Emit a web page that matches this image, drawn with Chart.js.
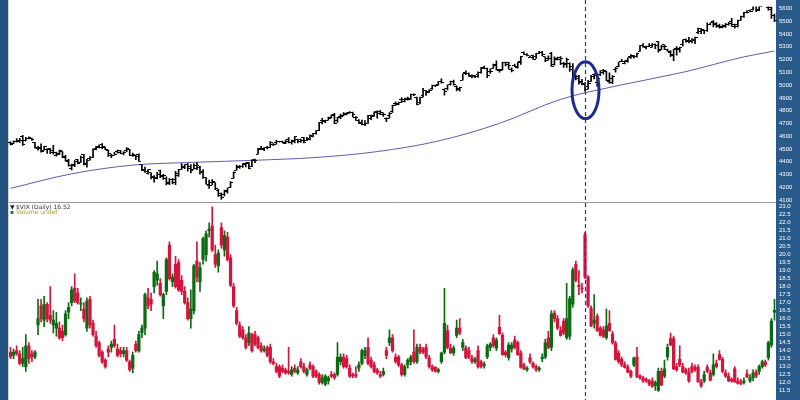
<!DOCTYPE html>
<html>
<head>
<meta charset="utf-8">
<script src="https://cdn.jsdelivr.net/npm/chart.js@4.4.1/dist/chart.umd.min.js"></script>
<style>
  html, body { margin: 0; padding: 0; background: #fff; }
  #chart { display: block; }
</style>
</head>
<body>
<canvas id="chart" width="800" height="400"></canvas>
<script>
// S&P 500 daily bars, 21 Jul 2023 .. 19 Jul 2024 (one entry per session)
const spxOpen = [
  4550,4543,4555,4558,4599,4565,4585,
  4578,4551,4500,4514,4491,4498,4501,4487,4450,4458,4478,4434,4409,4344,4380,4415,4397,4455,4389,4426,4433,4500,4518,
  4531,4511,4491,4452,4452,4480,4474,4462,4487,4497,4446,4446,4455,4375,4342,4311,4312,4283,4270,4328,
  4284,4270,4233,4259,4234,4289,4339,4366,4380,4360,4342,4345,4357,4321,4274,4210,4235,4233,4176,4152,4139,4172,
  4201,4268,4334,4364,4366,4384,4391,4365,4406,4458,4505,4497,4509,4512,4538,4553,4555,4555,4546,4571,4554,
  4559,4570,4557,4587,4568,4576,4601,4619,4646,4721,4714,4725,4743,4764,4724,4754,4759,4773,4786,4782,
  4745,4726,4697,4690,4703,4742,4759,4792,4792,4772,4739,4760,4796,4853,4856,4888,4886,4888,4892,4925,4899,
  4862,4916,4957,4951,4973,4996,5005,5027,4967,4976,5003,5032,4989,4964,5038,5100,5093,5074,5068,5085,
  5098,5131,5132,5109,5132,5164,5112,5124,5174,5175,5124,5154,5139,5182,5254,5242,5220,5228,5227,5248,
  5258,5221,5195,5244,5158,5212,5218,5167,5172,5172,5149,5064,5068,5031,5005,4987,5028,5084,5019,5084,5114,5103,
  5030,5050,5123,5142,5187,5168,5190,5226,5233,5222,5264,5310,5303,5305,5298,5319,5340,5282,5315,5278,5259,5243,
  5289,5278,5315,5357,5343,5341,5353,5409,5441,5424,5431,5477,5499,5481,5459,5461,5460,5473,5499,
  5471,5462,5507,5537,5572,5584,5592,5635,5590,5638,5645,5610,5608,5543
];
const spxHigh = [
  4555,4563,4580,4583,4607,4590,4595,
  4585,4551,4520,4540,4520,4503,4503,4528,4476,4490,4479,4450,4418,4382,4408,4419,4444,4458,4418,4440,4500,4521,4532,
  4542,4514,4491,4459,4474,4490,4488,4479,4511,4497,4467,4451,4461,4375,4357,4339,4313,4292,4317,4334,
  4300,4281,4268,4268,4324,4341,4385,4378,4385,4377,4383,4393,4364,4339,4276,4255,4259,4236,4183,4156,4177,4194,
  4245,4320,4373,4372,4386,4391,4393,4415,4421,4505,4521,4511,4521,4557,4542,4569,4560,4562,4569,4588,4569,
  4599,4575,4578,4590,4590,4610,4623,4644,4709,4739,4726,4749,4768,4778,4748,4772,4785,4785,4793,4788,
  4754,4730,4726,4722,4764,4765,4791,4799,4802,4783,4744,4785,4843,4868,4866,4903,4899,4906,4929,4932,4907,
  4906,4975,4957,4964,5000,5001,5030,5049,4971,5003,5032,5039,4994,4984,5088,5111,5097,5080,5077,5104,
  5140,5149,5134,5127,5165,5190,5124,5180,5180,5180,5136,5165,5180,5225,5261,5247,5229,5236,5249,5264,
  5264,5221,5229,5256,5222,5219,5224,5178,5211,5175,5168,5080,5077,5046,5019,5038,5076,5089,5057,5114,5124,5110,
  5096,5074,5140,5181,5201,5191,5214,5239,5234,5250,5311,5325,5305,5325,5325,5323,5342,5311,5315,5282,5270,5280,
  5302,5298,5354,5362,5375,5365,5376,5447,5442,5432,5488,5487,5505,5490,5478,5472,5483,5491,5524,
  5479,5510,5540,5570,5584,5590,5635,5642,5655,5670,5669,5623,5614,5557
];
const spxLow = [
  4532,4541,4553,4551,4528,4563,4578,
  4567,4505,4490,4475,4491,4464,4462,4458,4444,4454,4432,4403,4365,4335,4360,4382,4395,4375,4356,4412,4431,4493,4508,
  4501,4492,4442,4431,4451,4467,4461,4453,4479,4448,4442,4416,4402,4329,4316,4302,4265,4239,4264,4275,
  4260,4217,4220,4226,4219,4284,4339,4345,4325,4311,4342,4337,4303,4268,4223,4190,4219,4181,4128,4104,4132,4153,
  4197,4268,4334,4347,4355,4359,4343,4360,4393,4458,4495,4487,4500,4511,4525,4538,4552,4546,4541,4547,4537,
  4547,4546,4551,4546,4564,4570,4594,4616,4643,4695,4705,4725,4743,4697,4708,4736,4759,4767,4780,4751,
  4723,4700,4687,4682,4700,4730,4756,4740,4769,4755,4714,4740,4786,4840,4844,4865,4868,4881,4887,4917,4845,
  4853,4907,4919,4940,4966,4987,4999,5016,4921,4963,4999,4999,4954,4953,5038,5081,5068,5057,5058,5061,
  5094,5127,5058,5092,5131,5117,5102,5116,5151,5124,5104,5145,5132,5162,5241,5229,5216,5202,5209,5246,
  5229,5184,5195,5146,5157,5197,5160,5138,5138,5107,5053,5040,5008,5001,4953,4969,5028,5048,4990,5073,5086,5035,
  5013,5011,5102,5142,5184,5166,5180,5209,5211,5219,5263,5297,5284,5302,5298,5286,5257,5278,5280,5263,5222,5191,
  5234,5257,5304,5336,5331,5331,5324,5403,5403,5403,5420,5471,5456,5452,5446,5447,5452,5470,5460,
  5446,5456,5507,5531,5566,5574,5587,5576,5583,5619,5639,5588,5522,5497
];
const spxClose = [
  4536,4555,4567,4566,4537,4582,4589,
  4577,4513,4501,4478,4518,4499,4468,4469,4464,4490,4437,4404,4370,4370,4400,4388,4436,4376,4406,4433,4497,4514,4508,
  4516,4497,4465,4451,4457,4487,4462,4468,4505,4450,4454,4444,4402,4330,4320,4337,4274,4275,4300,4288,
  4288,4229,4263,4258,4308,4336,4358,4376,4349,4327,4373,4373,4314,4278,4224,4217,4247,4186,4137,4117,4166,4194,
  4238,4318,4358,4366,4378,4383,4347,4415,4411,4496,4503,4509,4514,4547,4538,4556,4559,4550,4555,4551,4568,
  4595,4570,4567,4549,4585,4604,4622,4644,4707,4720,4719,4741,4768,4698,4747,4755,4775,4781,4783,4770,
  4743,4705,4689,4697,4764,4757,4783,4780,4784,4766,4739,4780,4840,4850,4865,4869,4894,4891,4928,4925,4846,
  4906,4959,4943,4954,4996,4998,5027,5022,4953,5001,5030,5006,4976,4982,5088,5089,5070,5078,5070,5096,
  5137,5131,5079,5105,5157,5124,5117,5175,5165,5150,5117,5149,5179,5225,5241,5234,5218,5204,5248,5254,
  5243,5205,5211,5147,5204,5202,5209,5161,5199,5123,5061,5051,5022,5011,4967,5011,5070,5072,5048,5100,5116,5036,
  5018,5064,5128,5181,5187,5188,5214,5223,5221,5247,5308,5297,5303,5308,5321,5307,5268,5305,5306,5267,5235,5278,
  5283,5291,5354,5352,5347,5361,5375,5421,5433,5431,5473,5487,5473,5464,5448,5469,5478,5483,5460,
  5475,5509,5537,5567,5572,5577,5633,5585,5615,5631,5667,5589,5545,5505
];

// moving average at a few sessions
const maIdx = [0, 20, 40, 60, 80, 100, 120, 140, 160, 180, 200, 220, 240, 250];
const maVal = [4191, 4305, 4373, 4395, 4411, 4433, 4479, 4562, 4700, 4888, 5002, 5100, 5221, 5267];

// $VIX daily candles, same sessions
const vixOpen = [
  13.9,13.7,14.0,13.8,13.2,13.0,14.3,13.8,13.6,15.6,
  16.8,15.9,16.9,16.2,15.6,15.4,15.4,15.2,15.0,16.4,
  17.0,17.9,17.6,16.9,16.6,15.4,17.2,15.7,14.9,14.5,
  13.9,13.4,14.1,14.2,14.7,14.1,14.0,13.8,14.0,13.3,
  12.9,14.4,14.0,15.1,15.4,17.3,17.2,18.0,18.4,18.2,
  16.8,17.7,20.6,18.3,19.4,19.5,18.4,17.7,17.0,16.0,
  16.5,19.6,18.3,19.7,20.0,21.5,21.8,20.0,19.3,21.7,
  20.3,21.1,19.8,18.0,16.5,15.6,15.3,14.8,14.5,15.0,
  15.0,14.8,14.3,14.0,14.2,14.2,13.3,13.0,13.0,12.9,
  12.8,12.7,12.5,12.9,12.6,13.3,13.0,12.5,13.1,13.0,
  12.7,12.5,12.0,11.9,12.1,12.5,12.5,12.5,13.3,13.6,
  13.5,12.9,12.5,12.5,12.9,13.2,13.7,14.2,13.4,13.1,
  12.8,12.5,12.5,14.0,14.5,14.8,13.6,13.6,13.1,12.5,
  13.1,13.3,13.9,13.3,14.2,14.1,14.2,13.55,13.0,12.95,
  12.7,13.3,13.9,15.25,14.15,13.85,14.95,15.4,14.2,14.15,
  14.0,13.55,13.3,14.0,13.3,13.05,13.6,14.2,14.8,14.15,
  15.45,14.95,13.9,13.55,14.1,14.65,14.5,13.85,13.1,12.8,
  13.55,13.2,13.0,12.8,13.5,13.6,14.8,14.2,16.35,16.0,
  15.25,15.85,14.8,14.9,16.9,19.4,18.1,17.9,21.25,18.6,
  16.65,15.7,16.15,15.4,15.3,14.8,15.7,15.05,14.45,13.85,
  13.45,13.1,12.95,12.7,13.1,13.6,12.4,12.3,12.2,12.1,
  12.1,11.8,11.5,12.7,12.4,13.6,14.75,14.75,13.0,13.45,
  13.0,12.8,12.65,13.0,12.95,12.95,12.05,12.1,12.95,12.6,
  12.5,13.2,13.75,13.45,12.6,12.4,12.2,12.85,12.1,12.05,
  12.0,12.55,12.1,12.3,12.65,12.7,13.0,13.3,13.55,14.35,16.4
];
const vixHigh = [
  14.2,14.1,14.3,14.0,14.2,15.0,14.5,14.0,14.0,17.2,
  17.2,17.4,17.0,18.0,16.5,16.4,15.8,15.6,16.5,17.0,
  18.0,18.8,17.9,17.3,17.0,17.3,17.4,15.9,15.2,14.6,
  14.0,13.5,14.3,14.6,15.6,14.4,14.2,14.2,14.2,13.4,
  13.9,14.6,15.2,15.6,17.6,17.9,17.6,19.0,19.6,18.5,
  17.6,19.8,20.8,18.8,19.9,19.7,18.7,18.0,17.3,17.8,
  19.4,20.8,19.5,21.1,21.5,22.0,23.0,20.6,20.3,22.0,
  21.5,21.4,20.0,18.2,16.7,15.8,15.5,15.0,15.5,15.1,
  15.2,14.9,14.5,14.3,14.3,14.4,13.5,13.2,13.1,13.1,
  12.9,14.2,13.0,13.1,13.0,13.5,13.2,12.9,13.3,13.1,
  12.8,12.6,12.5,12.5,12.4,12.7,12.6,14.5,13.8,13.8,
  13.7,13.1,12.6,13.0,13.3,14.1,14.2,14.8,13.6,13.3,
  12.9,12.7,12.9,14.2,15.3,15.0,13.8,13.7,13.2,13.1,
  13.5,13.7,15.3,14.4,14.4,14.2,14.4,13.7,13.1,13.0,
  12.9,13.9,17.9,15.6,14.4,14.3,15.9,16.0,14.7,14.3,
  14.2,13.7,13.6,14.3,13.4,13.3,14.4,14.5,15.0,14.8,
  16.2,15.1,14.0,14.5,14.5,14.9,14.6,14.0,13.2,13.0,
  13.8,13.3,13.1,13.0,13.8,14.7,15.2,16.5,16.5,16.2,
  15.5,16.0,18.2,17.4,19.2,19.6,19.0,18.2,21.4,18.7,
  16.8,17.5,16.3,15.5,15.5,16.6,16.5,15.2,14.6,14.0,
  13.6,13.3,13.1,12.8,13.6,14.2,12.5,12.4,12.3,12.2,
  12.3,12.1,12.9,12.9,13.4,14.4,15.1,14.9,13.2,14.3,
  13.2,12.9,12.9,13.2,13.1,13.1,12.2,12.7,13.1,12.8,
  13.8,13.4,14.0,13.6,12.8,12.6,12.3,13.0,12.3,12.2,
  12.3,12.8,12.5,12.8,12.8,13.1,13.4,13.4,14.6,16.0,17.2
];
const vixLow = [
  13.5,13.5,13.7,13.1,13.0,12.7,13.2,13.3,13.5,15.0,
  15.8,15.5,15.8,15.7,15.1,14.9,14.7,14.6,14.9,16.0,
  16.8,17.0,16.9,16.5,15.8,15.2,15.4,14.9,14.2,13.6,
  13.2,12.9,13.6,13.9,14.2,13.6,13.6,13.6,13.3,12.7,
  12.6,13.9,13.9,14.8,15.0,16.6,16.5,17.6,18.1,17.4,
  16.0,17.5,18.4,18.0,17.9,17.7,17.5,16.9,15.9,15.4,
  16.3,18.3,17.7,19.4,19.6,21.1,20.2,19.2,18.9,20.4,
  19.9,19.6,18.0,16.7,15.6,14.8,14.7,14.1,14.3,13.9,
  14.3,14.1,13.9,13.9,13.6,13.2,13.1,12.6,12.3,12.6,
  12.5,12.5,12.4,12.6,12.5,12.9,12.6,12.4,12.8,12.3,
  12.3,11.9,11.9,11.8,11.9,12.3,12.2,12.4,13.1,12.9,
  12.9,12.3,12.3,12.3,12.7,13.1,13.5,13.1,12.9,12.6,
  12.5,12.3,12.4,13.5,14.3,13.9,13.2,13.0,12.4,12.4,
  12.9,13.1,13.2,13.2,13.8,13.8,13.5,12.9,12.7,12.65,
  12.6,13.2,13.8,14.1,13.8,13.7,14.8,15.0,14.0,13.5,
  13.5,13.2,13.2,12.9,12.9,12.9,13.5,14.0,14.2,14.0,
  15.0,13.7,13.6,13.4,13.9,14.1,13.7,12.9,12.8,12.7,
  13.2,12.9,12.7,12.7,13.3,13.5,14.1,14.0,15.8,15.3,
  14.9,15.0,14.7,14.7,16.7,18.3,17.5,17.6,18.5,16.7,
  15.5,15.4,15.2,14.9,14.8,14.7,15.2,14.4,13.4,13.2,
  13.0,12.9,12.6,12.3,13.0,12.3,12.2,12.0,12.0,11.8,
  11.7,11.5,11.45,11.8,12.3,13.4,14.3,12.8,12.7,13.0,
  12.6,12.5,12.0,12.6,12.7,12.0,11.7,12.0,12.6,12.1,
  12.4,12.9,13.4,12.6,12.3,12.05,12.0,12.0,11.9,11.85,
  11.9,12.3,12.0,12.1,12.3,12.5,12.9,13.0,13.4,14.2,15.9
];
const vixClose = [
  13.6,13.9,13.8,13.2,13.5,14.3,13.5,13.6,13.9,16.0,
  16.0,16.9,16.0,15.9,15.9,15.7,14.8,14.8,16.3,16.7,
  17.8,17.1,17.0,16.9,16.0,17.1,15.6,15.0,14.3,13.7,
  13.3,13.0,13.9,14.4,14.3,13.7,13.8,14.0,13.4,12.8,
  13.7,14.0,15.0,15.4,17.5,16.8,16.9,18.9,18.8,17.5,
  17.5,19.7,18.5,18.6,18.0,17.8,17.7,17.0,16.0,16.6,
  19.3,18.6,19.2,21.0,21.3,21.6,20.3,19.4,20.1,20.6,
  21.2,19.7,18.1,16.8,15.7,14.9,14.8,14.2,15.1,14.0,
  14.4,14.2,14.0,14.1,13.7,13.3,13.2,12.7,12.4,12.7,
  12.6,12.6,12.8,12.7,12.8,13.0,12.7,12.8,12.9,12.4,
  12.4,12.0,12.3,12.4,12.3,12.4,12.3,13.6,13.6,13.0,
  13.0,12.4,12.4,12.4,13.1,14.0,14.0,13.2,13.0,12.7,
  12.6,12.4,12.7,13.7,14.8,14.0,13.3,13.1,12.5,13.0,
  13.4,13.6,13.3,14.2,13.9,13.9,13.6,13.0,12.8,12.7,
  12.8,13.85,15.7,14.2,13.85,14.15,15.4,15.1,14.5,13.55,
  13.6,13.3,13.45,13.0,13.0,13.15,14.3,14.4,14.3,14.65,
  15.05,13.75,13.75,14.35,14.35,14.2,13.75,12.95,12.85,12.9,
  13.3,13.0,12.8,12.9,13.6,14.5,14.2,16.3,16.0,15.4,
  14.95,15.1,16.0,17.25,19.05,18.4,18.0,17.85,18.6,16.8,
  15.55,15.9,15.25,14.95,14.9,15.55,15.25,14.5,13.45,13.3,
  13.1,12.95,12.65,12.4,13.55,12.35,12.3,12.1,12.1,11.9,
  11.75,12.0,12.7,11.85,12.85,14.2,14.35,12.85,12.8,13.1,
  12.65,12.6,12.1,12.7,12.8,12.05,11.8,12.5,12.7,12.15,
  13.1,13.0,13.45,12.7,12.4,12.1,12.1,12.05,11.95,11.95,
  12.1,12.35,12.3,12.6,12.4,13.0,13.3,13.1,14.5,15.85,16.52
];

// axis tick labels
const spxTicks = [4100,4200,4300,4400,4500,4600,4700,4800,4900,5000,5100,5200,5300,5400,5500,5600];
const vixTicks = [11.5,12,12.5,13,13.5,14,14.5,15,15.5,16,16.5,17,17.5,18,18.5,19,19.5,20,20.5,21,21.5,22,22.5,23];

// marked session (19 Apr 2024) and the price the circle is centred on
const markIdx = 188;
const markPrice = 4960;

const labels = spxClose.map((_, i) => i);
const maLine = labels.map(i => {
    const k = maIdx.indexOf(i);
    return k < 0 ? null : maVal[k];
});

const UP = '#0b6b12';
const DOWN = '#d3143c';
const vixColors = vixClose.map((c, i) => c >= vixOpen[i] ? UP : DOWN);

// small tick images for the OHLC bars
function tickImage(left) {
    const c = document.createElement('canvas');
    c.width = 5; c.height = 1;
    const g = c.getContext('2d');
    g.fillStyle = '#000';
    g.fillRect(left ? 0 : 3, 0, 2, 1);
    return c;
}

const panelBg = {
    id: 'panelBg',
    beforeDraw(chart) {
        const { ctx, chartArea, width, height } = chart;
        ctx.save();
        ctx.fillStyle = '#ffffff';
        ctx.fillRect(0, 0, width, height);
        ctx.fillStyle = '#24527f';
        ctx.fillRect(0, 0, 8, height);
        ctx.fillStyle = '#cfd3d8';
        ctx.fillRect(8, 0, 1, height);
        ctx.fillStyle = '#2a5a89';
        ctx.fillRect(chartArea.right, 0, width - chartArea.right, height);
        ctx.restore();
    }
};

const overlay = {
    id: 'overlay',
    afterDatasetsDraw(chart) {
        const { ctx, chartArea, height } = chart;
        const { x, yTop, yBot } = chart.scales;
        ctx.save();

        // pane separator
        const sepY = Math.round(yTop.bottom) - 0.5;
        ctx.strokeStyle = '#9a9a9a';
        ctx.lineWidth = 1;
        ctx.beginPath();
        ctx.moveTo(chartArea.left, sepY);
        ctx.lineTo(chartArea.right, sepY);
        ctx.stroke();

        // dashed marker line
        const px = Math.round(x.getPixelForValue(markIdx)) + 0.5;
        ctx.strokeStyle = '#2a2ae0';
        ctx.lineWidth = 1.2;
        ctx.setLineDash([4, 3]);
        ctx.beginPath();
        ctx.moveTo(px, 0);
        ctx.lineTo(px, height);
        ctx.stroke();
        ctx.setLineDash([]);

        // circle round the dip
        ctx.strokeStyle = '#1d2a8e';
        ctx.lineWidth = 3;
        ctx.beginPath();
        ctx.ellipse(px, yTop.getPixelForValue(markPrice), 13.5, 28.5, 0, 0, Math.PI * 2);
        ctx.stroke();

        // lower pane legend
        const top = yBot.top + 2;
        ctx.font = '6px "DejaVu Sans"';
        ctx.textBaseline = 'top';
        ctx.fillStyle = '#222';
        ctx.fillText('\u25BC', 10, top);
        ctx.fillStyle = '#333';
        ctx.fillText('$VIX (Daily) 16.52', 16, top);
        ctx.fillStyle = '#3a6b2a';
        ctx.fillText('\u25AA', 10, top + 5);
        ctx.fillStyle = '#b09a3a';
        ctx.fillText('Volume undef', 16, top + 5);
        ctx.restore();
    }
};

const tickFont = { family: 'Liberation Sans', size: 6 };

new Chart(document.getElementById('chart'), {
    type: 'bar',
    data: {
        labels: labels,
        datasets: [
            {
                type: 'line',
                data: maLine,
                yAxisID: 'yTop',
                borderColor: '#5d60a8',
                borderWidth: 1,
                pointRadius: 0,
                spanGaps: true,
                cubicInterpolationMode: 'monotone',
                order: 5
            },
            {
                data: spxLow.map((l, i) => [l, spxHigh[i]]),
                yAxisID: 'yTop',
                backgroundColor: '#000',
                barThickness: 1,
                grouped: false,
                order: 4
            },
            {
                type: 'line',
                data: spxOpen,
                yAxisID: 'yTop',
                showLine: false,
                pointStyle: tickImage(true),
                pointRadius: 1,
                order: 3
            },
            {
                type: 'line',
                data: spxClose,
                yAxisID: 'yTop',
                showLine: false,
                pointStyle: tickImage(false),
                pointRadius: 1,
                order: 3
            },
            {
                data: vixLow.map((l, i) => [l, vixHigh[i]]),
                yAxisID: 'yBot',
                backgroundColor: vixColors,
                barThickness: 1,
                grouped: false,
                order: 2
            },
            {
                data: vixOpen.map((o, i) => [o, vixClose[i]]),
                yAxisID: 'yBot',
                backgroundColor: vixColors,
                barThickness: 2.6,
                minBarLength: 1,
                grouped: false,
                order: 1
            }
        ]
    },
    options: {
        responsive: false,
        animation: false,
        events: [],
        layout: { padding: { left: 9, right: 0, top: 0, bottom: 0 } },
        plugins: {
            legend: { display: false },
            tooltip: { enabled: false }
        },
        scales: {
            x: {
                display: false,
                offset: true,
                grid: { display: false }
            },
            yTop: {
                position: 'right',
                stack: 'panes',
                stackWeight: 203,
                min: 4077,
                max: 5615,
                grid: { display: false, drawTicks: false },
                border: { display: false },
                afterBuildTicks: axis => { axis.ticks = spxTicks.map(v => ({ value: v })); },
                afterFit: axis => { axis.width = 24; },
                ticks: { color: '#fff', font: tickFont, padding: 3, autoSkip: false, callback: v => String(v) }
            },
            yBot: {
                position: 'right',
                stack: 'panes',
                stackWeight: 197,
                min: 11.32,
                max: 23.24,
                grid: { display: false, drawTicks: false },
                border: { display: false },
                afterBuildTicks: axis => { axis.ticks = vixTicks.map(v => ({ value: v })); },
                afterFit: axis => { axis.width = 24; },
                ticks: { color: '#fff', font: tickFont, padding: 3, autoSkip: false, callback: v => Number(v).toFixed(1) }
            }
        }
    },
    plugins: [panelBg, overlay]
});
</script>
</body>
</html>
